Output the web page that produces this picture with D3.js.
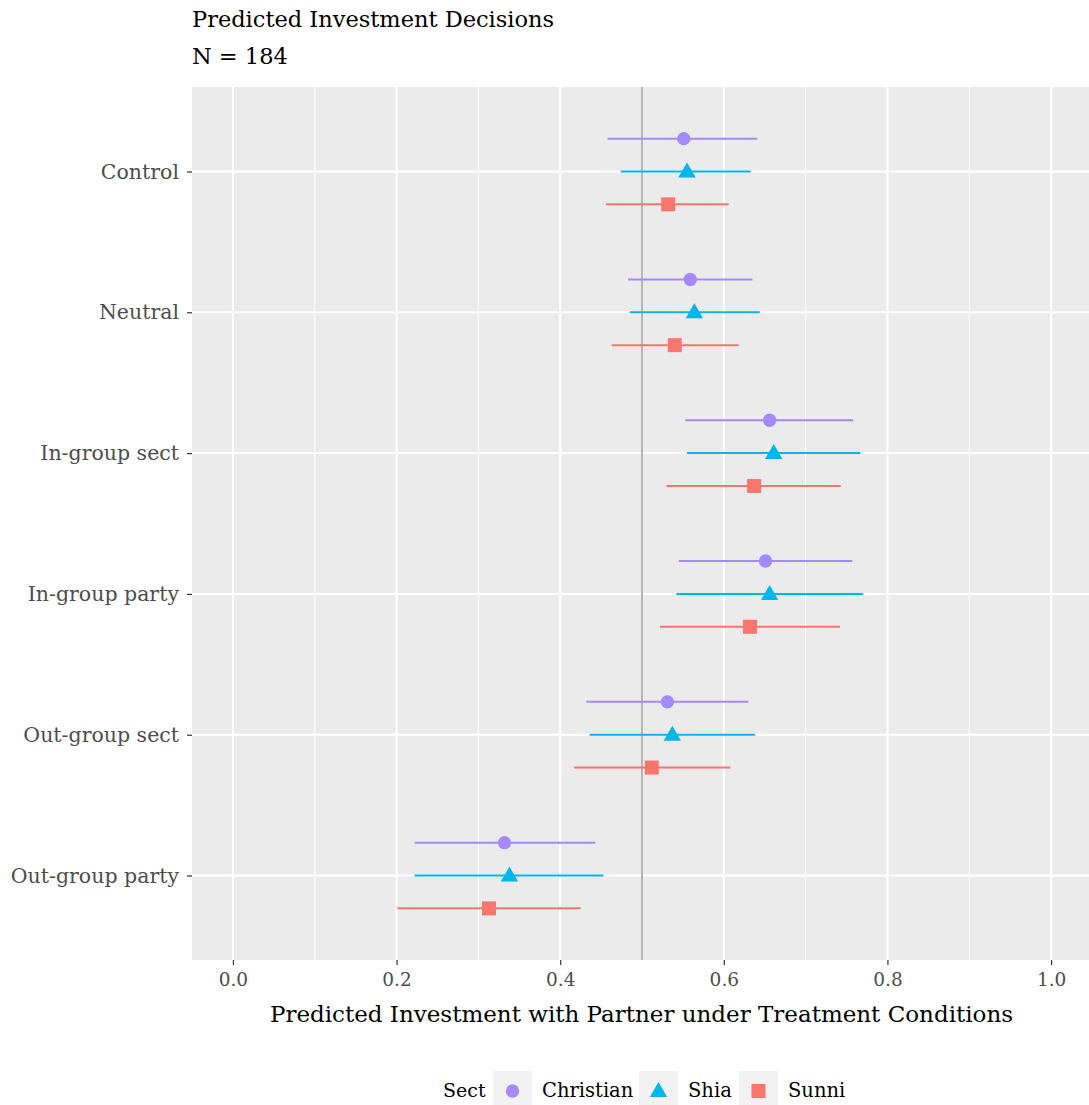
<!DOCTYPE html>
<html>
<head>
<meta charset="utf-8">
<script src="https://cdn.jsdelivr.net/npm/d3@7"></script>
<style>
  body { margin: 0; background: #fff; }
  svg { display: block; font-family: "DejaVu Serif", serif; }
</style>
</head>
<body>
<div id="chart"></div>
<script>
// treatment conditions, top to bottom as drawn
const conditions = ["Control", "Neutral", "In-group sect", "In-group party", "Out-group sect", "Out-group party"]
const sects = ["Christian", "Shia", "Sunni"]
const xTicks = [0, 0.2, 0.4, 0.6, 0.8, 1.0]
const xMinor = [0.1, 0.3, 0.5, 0.7, 0.9]

// predicted values with confidence bounds, per condition
const christianEst = [0.551, 0.559, 0.656, 0.651, 0.531, 0.332]
const christianLo  = [0.458, 0.483, 0.553, 0.545, 0.432, 0.222]
const christianHi  = [0.641, 0.635, 0.758, 0.757, 0.630, 0.443]
const shiaEst = [0.555, 0.564, 0.661, 0.656, 0.537, 0.338]
const shiaLo  = [0.474, 0.485, 0.555, 0.542, 0.436, 0.222]
const shiaHi  = [0.633, 0.644, 0.767, 0.770, 0.638, 0.453]
const sunniEst = [0.532, 0.540, 0.637, 0.632, 0.512, 0.313]
const sunniLo  = [0.456, 0.463, 0.530, 0.522, 0.417, 0.201]
const sunniHi  = [0.606, 0.618, 0.743, 0.742, 0.608, 0.425]

const width = 1089, height = 1105
const panel = {left: 192, right: 1092, top: 87, bottom: 960}

const colors = {
    Christian: '#A58AFF',
    Shia: '#00B6EB',
    Sunni: '#F8766D',
    panel: '#EBEBEB',
    grid: '#FFFFFF',
    ref: '#A6A6A6',
    tickText: '#4D4D4D',
    tick: '#333333',
    key: '#F2F2F2'
}

const shapes = {
    Christian: d3.symbol(d3.symbolCircle, 140),
    Shia: d3.symbol(d3.symbolTriangle, 130),
    Sunni: d3.symbol(d3.symbolSquare, 196)
}

const rows = []
const series = {
    Christian: [christianEst, christianLo, christianHi],
    Shia: [shiaEst, shiaLo, shiaHi],
    Sunni: [sunniEst, sunniLo, sunniHi]
}
sects.forEach(s => {
    conditions.forEach((c, i) => {
        rows.push({sect: s, cond: c, est: series[s][0][i], lo: series[s][1][i], hi: series[s][2][i]})
    })
})

const x = d3.scaleLinear().domain([-0.05, 1.05]).range([panel.left, panel.right])
const y = d3.scalePoint().domain(conditions).range([panel.top, panel.bottom]).padding(0.6)
const dodge = d3.scalePoint().domain(sects).range([-0.7 / 3 * y.step(), 0.7 / 3 * y.step()])

const svg = d3.select('#chart').append('svg')
    .attr('width', width)
    .attr('height', height)

// panel background
svg.append('rect')
    .attr('x', panel.left).attr('y', panel.top)
    .attr('width', panel.right - panel.left)
    .attr('height', panel.bottom - panel.top)
    .attr('fill', colors.panel)

// grid
svg.append('g').selectAll('line').data(xMinor).join('line')
    .attr('x1', d => x(d)).attr('x2', d => x(d))
    .attr('y1', panel.top).attr('y2', panel.bottom)
    .attr('stroke', colors.grid).attr('stroke-width', 1)
svg.append('g').selectAll('line').data(xTicks).join('line')
    .attr('x1', d => x(d)).attr('x2', d => x(d))
    .attr('y1', panel.top).attr('y2', panel.bottom)
    .attr('stroke', colors.grid).attr('stroke-width', 2)
svg.append('g').selectAll('line').data(conditions).join('line')
    .attr('x1', panel.left).attr('x2', panel.right)
    .attr('y1', d => y(d)).attr('y2', d => y(d))
    .attr('stroke', colors.grid).attr('stroke-width', 2)

// reference line at 0.5
svg.append('line')
    .attr('x1', x(0.5)).attr('x2', x(0.5))
    .attr('y1', panel.top).attr('y2', panel.bottom)
    .attr('stroke', colors.ref).attr('stroke-width', 1.6)

// ranges
svg.append('g').selectAll('line').data(rows).join('line')
    .attr('x1', d => x(d.lo)).attr('x2', d => x(d.hi))
    .attr('y1', d => y(d.cond) + dodge(d.sect))
    .attr('y2', d => y(d.cond) + dodge(d.sect))
    .attr('stroke', d => colors[d.sect])
    .attr('stroke-width', 2)

// points
svg.append('g').selectAll('path').data(rows).join('path')
    .attr('d', d => shapes[d.sect]())
    .attr('transform', d => `translate(${x(d.est)},${y(d.cond) + dodge(d.sect) + (d.sect === 'Shia' ? 1 : 0)})`)
    .attr('fill', d => colors[d.sect])

// x axis
const xAxis = svg.append('g')
    .attr('transform', `translate(0,${panel.bottom})`)
    .call(d3.axisBottom(x).tickValues(xTicks).tickFormat(d3.format('.1f')).tickSize(5).tickPadding(8))
xAxis.select('.domain').remove()
xAxis.selectAll('line').attr('stroke', colors.tick).attr('stroke-width', 1.2)
xAxis.selectAll('text').attr('fill', colors.tickText).attr('font-size', 18.5).attr('font-family', '"DejaVu Serif", serif')

// y axis
const yAxis = svg.append('g')
    .attr('transform', `translate(${panel.left},0)`)
    .call(d3.axisLeft(y).tickSize(5).tickPadding(8))
yAxis.select('.domain').remove()
yAxis.selectAll('line').attr('stroke', colors.tick).attr('stroke-width', 1.2)
yAxis.selectAll('text').attr('fill', colors.tickText).attr('font-size', 20.5).attr('font-family', '"DejaVu Serif", serif')

// titles
svg.append('text').attr('x', panel.left).attr('y', 27)
    .attr('font-size', 22.5).attr('fill', '#000')
    .text('Predicted Investment Decisions')
svg.append('text').attr('x', panel.left).attr('y', 64)
    .attr('font-size', 22.5).attr('fill', '#000')
    .text('N = 184')
svg.append('text').attr('x', (panel.left + 1089) / 2 + 1).attr('y', 1022)
    .attr('text-anchor', 'middle')
    .attr('font-size', 23).attr('fill', '#000')
    .text('Predicted Investment with Partner under Treatment Conditions')

// legend
const legend = svg.append('g')
legend.append('text').attr('x', 443).attr('y', 1097)
    .attr('font-size', 19).text('Sect')
const keyX = {Christian: 493, Shia: 639, Sunni: 739}
sects.forEach(s => {
    const g = legend.append('g').attr('transform', `translate(${keyX[s]},1071)`)
    g.append('rect').attr('width', 39).attr('height', 39).attr('fill', colors.key)
    g.append('path').attr('d', shapes[s]())
        .attr('transform', `translate(19.5,${s === 'Shia' ? 21 : 20})`)
        .attr('fill', colors[s])
    g.append('text').attr('x', 49).attr('y', 26)
        .attr('font-size', 19.5).text(s)
})
</script>
</body>
</html>
